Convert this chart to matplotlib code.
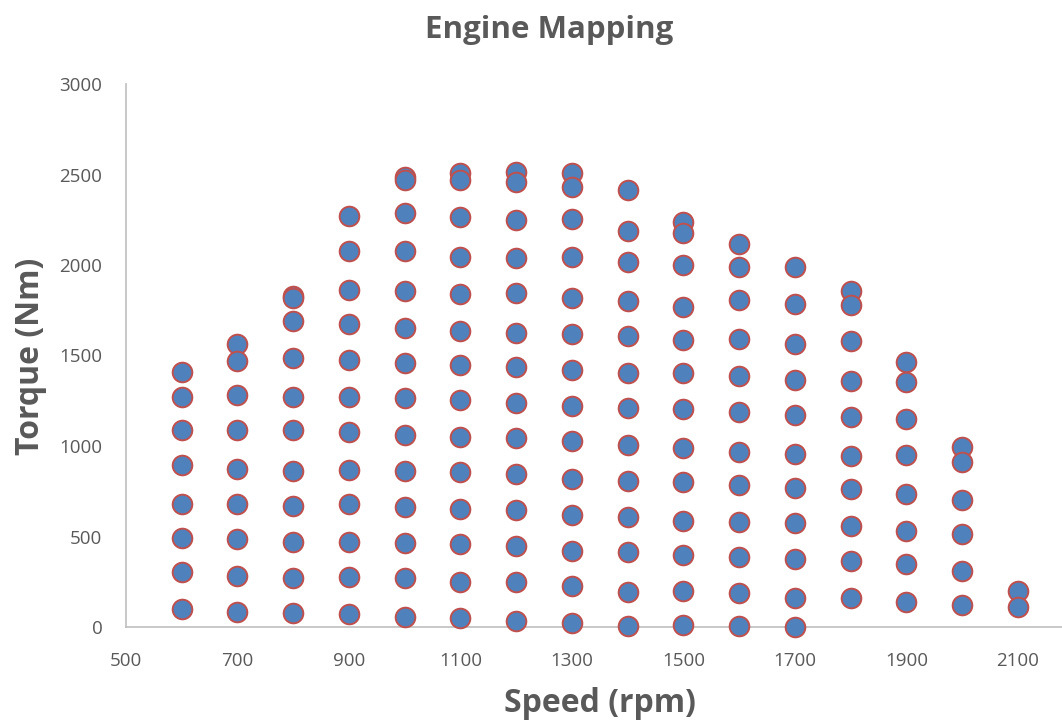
import matplotlib
matplotlib.use("Agg")
import matplotlib.pyplot as plt

# torque points (Nm) measured at each engine speed (rpm)
speeds = [600, 700, 800, 900, 1000, 1100, 1200, 1300, 1400, 1500, 1600, 1700, 1800, 1900, 2000, 2100]

torque_600 = [1409, 1271, 1088, 895, 680, 492, 304, 99]
torque_700 = [1563, 1470, 1282, 1088, 873, 680, 486, 282, 83]
torque_800 = [1830, 1820, 1691, 1486, 1271, 1088, 862, 669, 470, 271, 77]
torque_900 = [2271, 2077, 1862, 1674, 1475, 1271, 1077, 867, 680, 470, 276, 72]
torque_1000 = [2486, 2470, 2287, 2077, 1856, 1652, 1459, 1263, 1059, 862, 663, 464, 271, 55]
torque_1100 = [2508, 2470, 2265, 2044, 1840, 1635, 1448, 1254, 1050, 856, 652, 457, 247, 50]
torque_1200 = [2514, 2459, 2249, 2039, 1845, 1624, 1436, 1238, 1044, 845, 646, 448, 247, 35]
torque_1300 = [2508, 2431, 2254, 2044, 1818, 1619, 1420, 1221, 1028, 818, 619, 420, 228, 20]
torque_1400 = [2414, 2188, 2017, 1801, 1608, 1406, 1210, 1006, 808, 606, 414, 193, 6]
torque_1500 = [2238, 2177, 2000, 1768, 1586, 1403, 1206, 987, 799, 586, 398, 199, 9]
torque_1600 = [2116, 1989, 1807, 1591, 1387, 1188, 969, 783, 580, 389, 188, 6]
torque_1700 = [1989, 1785, 1564, 1365, 1170, 956, 770, 575, 374, 160, 2]
torque_1800 = [1856, 1779, 1580, 1359, 1162, 945, 761, 558, 365, 160]
torque_1900 = [1462, 1355, 1147, 949, 735, 530, 348, 136]
torque_2000 = [996, 913, 702, 512, 309, 123]
torque_2100 = [199, 112]

torques = [torque_600, torque_700, torque_800, torque_900, torque_1000, torque_1100,
           torque_1200, torque_1300, torque_1400, torque_1500, torque_1600, torque_1700,
           torque_1800, torque_1900, torque_2000, torque_2100]

x_ticks = [500, 700, 900, 1100, 1300, 1500, 1700, 1900, 2100]
y_ticks = [0, 500, 1000, 1500, 2000, 2500, 3000]

x_vals = []
y_vals = []
for s, col in zip(speeds, torques):
    x_vals += [s] * len(col)
    y_vals += col

plt.rcParams["font.family"] = ["Open Sans", "DejaVu Sans"]

fig = plt.figure(figsize=(10.62, 7.22), dpi=100)
ax = fig.add_axes([126 / 1062, 1 - 627 / 722, 1 - 126 / 1062, (627 - 84) / 722])

ax.scatter(x_vals, y_vals, s=200, facecolor="#4F81BD", edgecolor="#C0504D",
           linewidth=1.4, zorder=3, clip_on=False)

ax.set_xlim(500, 2179)
ax.set_ylim(0, 3000)
ax.set_xticks(x_ticks)
ax.set_yticks(y_ticks)
ax.tick_params(length=0, labelsize=13.5, colors="#595959")
ax.tick_params(axis="x", pad=18)
ax.tick_params(axis="y", pad=17)

for side in ["top", "right"]:
    ax.spines[side].set_visible(False)
for side in ["left", "bottom"]:
    ax.spines[side].set_color("#BFBFBF")
    ax.spines[side].set_linewidth(1.2)

fig.text(549 / 1062, 1 - 30 / 722, "Engine Mapping", ha="center", va="center",
         fontsize=22.5, fontweight="bold", color="#595959")
fig.text(600 / 1062, 1 - 703 / 722, "Speed (rpm)", ha="center", va="center",
         fontsize=23, fontweight="bold", color="#595959")
fig.text(31 / 1062, 1 - 356 / 722, "Torque (Nm)", ha="center", va="center",
         rotation=90, fontsize=23, fontweight="bold", color="#595959")

fig.savefig("out.png", dpi=100)
